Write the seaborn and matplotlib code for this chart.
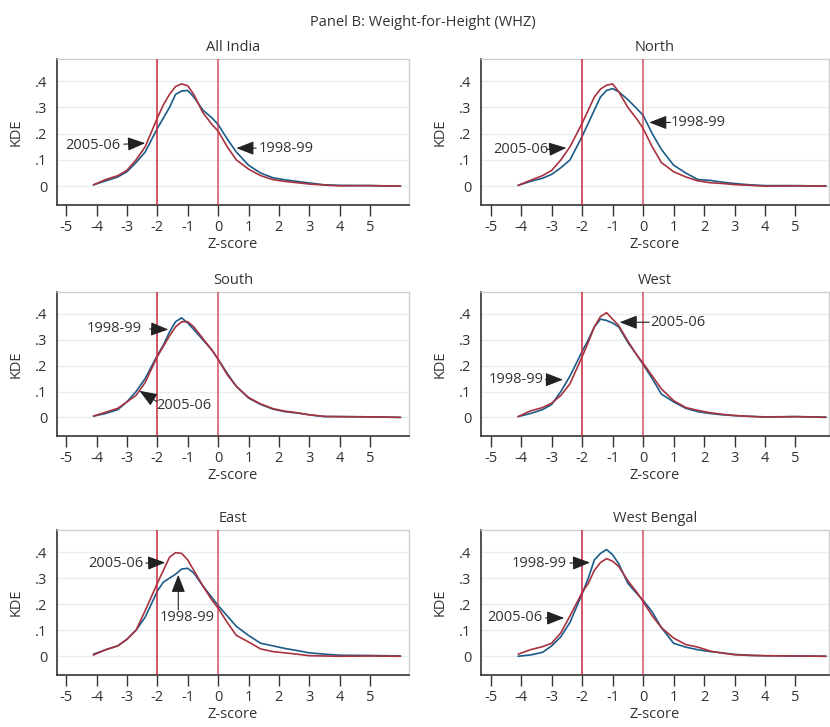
import numpy as np
import pandas as pd
import matplotlib
matplotlib.use("Agg")
import matplotlib.pyplot as plt
import seaborn as sns

# ---------------- data ----------------
z = [-4.1, -3.7, -3.3, -3.0, -2.7, -2.4, -2.0, -1.8, -1.6, -1.4, -1.2, -1.0, -0.8,
     -0.5, -0.2, 0.0, 0.3, 0.6, 1.0, 1.4, 1.8, 2.2, 2.6, 3.0, 3.5, 4.0, 5.0, 6.0]

panels = ["All India", "North", "South", "West", "East", "West Bengal"]

allindia_9899 = [.005, .020, .035, .055, .090, .130, .220, .260, .300, .350, .363, .365, .340,
                 .290, .260, .235, .180, .130, .080, .050, .032, .024, .018, .012, .005, .003, .002, 0]
allindia_0506 = [.005, .025, .040, .060, .100, .150, .260, .310, .350, .380, .390, .383, .350,
                 .280, .235, .210, .150, .100, .065, .040, .025, .018, .013, .008, .004, .001, .002, 0]
north_9899 = [.003, .018, .030, .045, .070, .100, .190, .240, .290, .340, .365, .372, .360,
              .330, .295, .270, .200, .140, .080, .050, .025, .022, .015, .010, .005, .002, .002, 0]
north_0506 = [.003, .022, .040, .060, .100, .150, .240, .290, .340, .370, .385, .390, .360,
              .300, .255, .220, .150, .090, .055, .035, .020, .013, .010, .006, .003, .000, .001, 0]
south_9899 = [.005, .015, .030, .060, .100, .150, .240, .280, .330, .370, .385, .365, .340,
              .300, .260, .225, .170, .120, .075, .050, .032, .022, .017, .010, .003, .003, .002, 0]
south_0506 = [.005, .020, .035, .060, .085, .135, .235, .275, .315, .350, .370, .370, .350,
              .305, .260, .225, .165, .120, .077, .052, .034, .024, .018, .010, .004, .003, .002, 0]
west_9899 = [.003, .015, .030, .050, .100, .160, .255, .300, .350, .380, .375, .365, .350,
             .290, .240, .205, .150, .090, .060, .035, .022, .015, .010, .007, .004, .002, .003, .001]
west_0506 = [.003, .025, .038, .055, .085, .130, .235, .290, .350, .390, .405, .380, .355,
             .295, .240, .210, .160, .110, .065, .038, .027, .018, .012, .007, .004, .001, .003, 0]
east_9899 = [.008, .025, .040, .065, .100, .150, .250, .285, .300, .315, .335, .338, .320,
             .270, .225, .195, .155, .115, .080, .050, .040, .030, .022, .013, .008, .004, .003, .001]
east_0506 = [.005, .025, .040, .065, .100, .175, .280, .330, .380, .398, .395, .370, .330,
             .270, .215, .185, .130, .080, .055, .028, .018, .013, .008, .002, .001, 0, .001, 0]
wb_9899 = [.000, .005, .015, .040, .075, .130, .240, .300, .370, .395, .410, .390, .355,
           .280, .240, .215, .170, .110, .050, .035, .025, .018, .013, .007, .004, .002, .001, 0]
wb_0506 = [.008, .025, .037, .050, .090, .155, .245, .280, .330, .360, .375, .365, .345,
           .290, .245, .210, .155, .110, .070, .045, .035, .020, .012, .006, .003, .002, .001, 0]

series = {
    "All India": (allindia_9899, allindia_0506),
    "North": (north_9899, north_0506),
    "South": (south_9899, south_0506),
    "West": (west_9899, west_0506),
    "East": (east_9899, east_0506),
    "West Bengal": (wb_9899, wb_0506),
}

xticks = [-5, -4, -3, -2, -1, 0, 1, 2, 3, 4, 5]
yticks = [0, .1, .2, .3, .4]
yticklabels = ["0", ".1", ".2", ".3", ".4"]

# annotations: (label, text_x, text_y, ha, tail, tip)
notes = {
    "All India": [("2005-06", -3.2, .155, "right", (-3.1, .160), (-2.4, .164)),
                  ("1998-99", 1.32, .145, "left", (1.25, .145), (0.6, .145))],
    "North": [("2005-06", -3.12, .138, "right", (-3.15, .140), (-2.52, .146)),
              ("1998-99", 0.92, .243, "left", (0.9, .243), (0.2, .243))],
    "South": [("1998-99", -2.5, .345, "right", (-2.25, .342), (-1.64, .340)),
              ("2005-06", -2.03, .046, "left", (-2.0, .060), (-2.59, .103))],
    "West": [("2005-06", 0.22, .368, "left", (0.2, .368), (-0.77, .368)),
             ("1998-99", -3.27, .146, "right", (-3.2, .146), (-2.63, .146))],
    "East": [("2005-06", -2.46, .358, "right", (-2.38, .358), (-1.74, .360)),
             ("1998-99", -1.02, .147, "center", (-1.31, .178), (-1.31, .313))],
    "West Bengal": [("1998-99", -2.5, .358, "right", (-2.4, .358), (-1.74, .360)),
                    ("2005-06", -3.29, .147, "right", (-3.2, .147), (-2.59, .147))],
}

# ---------------- style ----------------
sns.set_style("white")
plt.rcParams["font.family"] = ["Open Sans", "DejaVu Sans"]
plt.rcParams["font.size"] = 10

BLUE = "#1c5b88"
RED = "#a8333f"
VRED = "#c8283c"
TXT = "#333333"

W, H = 830, 727
fig = plt.figure(figsize=(W / 100, H / 100), dpi=100)

cols = [(57, 409, (-5.3, 6.28)), (481, 829, (-5.32, 6.1))]
rows = [(59, 205), (292, 436), (530, 675)]

for i, name in enumerate(panels):
    r, c = divmod(i, 2)
    x0, x1, xl = cols[c]
    y0, y1 = rows[r]
    ax = fig.add_axes([x0 / W, 1 - y1 / H, (x1 - x0) / W, (y1 - y0) / H])
    b, a = series[name]
    df = pd.DataFrame({"z": z * 2, "kde": b + a,
                       "year": ["1998-99"] * len(z) + ["2005-06"] * len(z)})
    for yv in yticks:
        ax.axhline(yv, color="#e4eef3", lw=1, zorder=0)
    sns.lineplot(data=df, x="z", y="kde", hue="year",
                 palette={"1998-99": BLUE, "2005-06": RED},
                 lw=1.2, legend=False, ax=ax, zorder=3)
    ax.axvline(-2, color=VRED, lw=1.1, zorder=4)
    ax.axvline(0, color=VRED, lw=1.1, zorder=4, alpha=0.8)
    ax.set_xlim(*xl)
    ax.set_ylim(-0.072, 0.485)
    ax.set_xticks(xticks)
    ax.set_xticklabels([str(t).replace("-", "-") for t in xticks])
    ax.set_yticks(yticks)
    ax.set_yticklabels(yticklabels)
    ax.tick_params(axis="x", direction="out", length=8, width=1, color="#333333",
                   pad=3, labelsize=10.5, labelcolor=TXT, bottom=True)
    ax.tick_params(axis="y", length=0, pad=7, labelsize=10.5, labelcolor=TXT, left=True)
    ax.set_xlabel("Z-score", fontsize=10.5, color=TXT, labelpad=1)
    ax.set_ylabel("KDE", fontsize=10.5, color=TXT, labelpad=8)
    ax.set_title(name, fontsize=10.5, color=TXT, pad=6)
    for s in ["top", "right"]:
        ax.spines[s].set_color("#cfcfcf")
        ax.spines[s].set_linewidth(1)
    for s in ["left", "bottom"]:
        ax.spines[s].set_color("#333333")
        ax.spines[s].set_linewidth(1.2)
    for label, tx, ty, ha, tail, tip in notes[name]:
        ax.text(tx, ty, label, ha=ha, va="center", fontsize=10.5, color=TXT, zorder=6)
        ax.annotate("", xy=tip, xytext=tail,
                    arrowprops=dict(arrowstyle="-|>,head_length=0.9,head_width=0.35",
                                    color="#222222", lw=0.8, shrinkA=0, shrinkB=0,
                                    mutation_scale=12),
                    zorder=6)

fig.text(0.51, 1 - 22 / H, "Panel B: Weight-for-Height (WHZ)", ha="center", va="center",
         fontsize=10.5, color=TXT)

fig.savefig("out.png", dpi=100)
